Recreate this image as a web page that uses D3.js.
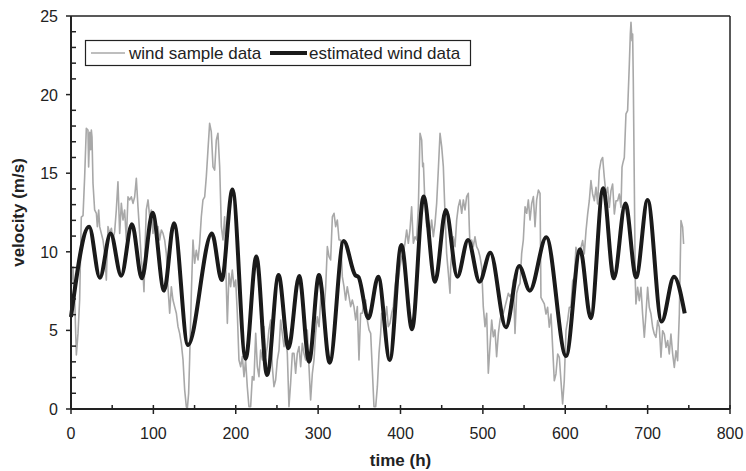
<!DOCTYPE html>
<html><head><meta charset="utf-8">
<script src="https://cdn.jsdelivr.net/npm/d3@7"></script>
<style>body{margin:0;background:#fff}svg{display:block}</style>
</head><body>
<svg id="c" width="746" height="471"></svg>
<script>
// estimated wind data (smooth curve, extrema)
const estT = [0, 22, 35, 48, 61, 74, 86, 99, 113, 125, 142, 171, 183, 196, 212, 225, 238, 252, 264, 277, 289, 301, 314, 331, 345, 349, 361, 373, 387, 401, 414, 428, 442, 455, 469, 482, 496, 509, 528, 544, 557, 577, 601, 618, 631, 646, 659, 673, 686, 700, 717, 732, 745];
const estV = [5.85, 11.6, 8.35, 11.17, 8.48, 11.75, 8.31, 12.49, 7.53, 11.81, 4.07, 11.17, 8.2, 13.97, 3.2, 9.7, 2.16, 8.52, 3.86, 8.46, 3.01, 8.52, 2.95, 10.69, 8.52, 8.4, 5.77, 8.42, 3.12, 10.43, 5.07, 13.51, 8.1, 12.66, 8.42, 10.75, 8.1, 9.94, 5.2, 9.1, 7.53, 10.92, 3.37, 10.16, 5.77, 14.04, 8.31, 13.08, 8.38, 13.3, 5.56, 8.42, 6.09];

// wind sample data
const sampleT = [0, 2.4, 4.5, 6.5, 8.5, 10.5, 12.5, 14.6, 16.6, 18.6, 20.6, 21.4, 22.7, 23.9, 24.7, 25.5, 26.7, 28.7, 30.8, 32, 33.6, 34.8, 36.8, 38.8, 40.9, 42.9, 44.9, 46.9, 49, 51, 53, 55, 57, 59.1, 61.1, 63.1, 65.1, 67.2, 69.2, 71.2, 73.2, 75.3, 77.3, 79.3, 81.3, 83.4, 85.4, 87.4, 88.6, 90.2, 91.4, 93.5, 95.5, 97.5, 99.5, 101.6, 103.6, 105.6, 107.6, 109.7, 111.7, 113.7, 115.7, 117.7, 119.8, 121.8, 123.8, 125.8, 127.9, 129.9, 131.9, 133.9, 136, 138, 140, 141.2, 142.8, 144, 146.1, 148.1, 150.1, 152.1, 154.2, 156.2, 158.2, 160.2, 162.3, 164.3, 166.3, 168.3, 170.3, 172.4, 174.4, 176.4, 178.4, 180.5, 182.5, 184.5, 186.5, 187.7, 189.8, 191.8, 193.8, 195.8, 197.9, 199.9, 201.9, 203.9, 206, 208, 210, 212, 214, 216, 218.1, 220.1, 222.1, 224.2, 226.2, 228.2, 230.2, 232.3, 234.3, 236.3, 238.3, 240.3, 242.4, 244.4, 246.4, 248.4, 250.5, 252.5, 254.5, 256.5, 258.6, 260.6, 262.6, 264.6, 266.6, 268.7, 270.7, 272.7, 274.7, 276.8, 278.8, 280.8, 282.8, 284.9, 286.9, 288.9, 290.9, 293, 295, 297, 299, 301.1, 303.1, 305.1, 307.1, 309.2, 311.2, 313.2, 315.2, 317.3, 319.3, 321.3, 323.3, 325.4, 327.4, 329.4, 331.4, 333.4, 335.4, 337.5, 339.5, 341.5, 343.5, 345.6, 347.6, 349.6, 351.6, 353.7, 355.7, 357.7, 359.7, 361.8, 363.8, 365.8, 367.8, 369.9, 371.9, 373.9, 375.9, 377.1, 379.1, 381.2, 383.2, 385.2, 387.2, 389.3, 391.3, 393.3, 395.3, 397.3, 399.4, 401.4, 403.4, 405.4, 407.5, 409.5, 411.5, 413.5, 415.6, 417.6, 419.6, 421.7, 423.7, 425.7, 426.9, 427.8, 429.8, 431.8, 433.8, 435.8, 437.8, 439.9, 441.9, 443.9, 445.9, 448, 450, 452, 454, 456, 458.1, 460.1, 460.9, 462.1, 464.1, 466.2, 468.2, 470.2, 472.2, 474.3, 476.3, 478.3, 480.3, 482.3, 483.5, 484.4, 486.4, 488.4, 490.4, 492.4, 494.5, 496.5, 498.5, 500.5, 502.6, 504.6, 506.6, 508.6, 510.7, 512.7, 514.7, 516.7, 518.8, 520.8, 522.8, 524.8, 526.9, 528.9, 530.9, 532.9, 535, 537, 539, 541, 543.1, 545.1, 547.1, 549.1, 551.2, 553.2, 555.2, 557.2, 559.3, 561.3, 563.3, 565.3, 567.4, 569.4, 570.5, 572.5, 574.6, 576.6, 578.6, 580.6, 582.7, 584.7, 586.7, 588.7, 590.8, 592.8, 594.8, 596.8, 598.8, 600.9, 602.9, 604.9, 606.9, 609, 611, 613, 615, 617.1, 619.1, 621.1, 623.1, 625.2, 627.2, 629.2, 631.2, 633.2, 635.3, 637.3, 639.3, 641.3, 643.4, 645.4, 647.4, 649.4, 651.5, 653.5, 655.5, 657.5, 659.6, 661.6, 663.6, 665.6, 667.7, 668.9, 669.7, 671.7, 673.7, 675.7, 677.8, 679, 679.8, 681, 681.8, 682.6, 683.8, 685, 685.8, 687.9, 689.9, 691.9, 693.9, 696, 698, 700, 702, 704.1, 706.1, 708.1, 710.1, 712.2, 714.2, 716.2, 718.2, 720.3, 722.3, 724.3, 726.3, 728.3, 730.4, 732.4, 734.4, 736.4, 738.5, 740.5, 742.5, 743.7];
const sampleV = [7.5, 9.05, 6.93, 3.44, 4.81, 6.93, 12.2, 12.3, 14.8, 17.85, 17.75, 15.4, 17.6, 16.5, 17.75, 17.3, 14.36, 12.66, 12.45, 11.6, 12.66, 11.6, 11.17, 10.75, 9.9, 8.2, 11.6, 11.17, 11.5, 10.75, 11.28, 12.66, 14.46, 11.17, 13.08, 12.02, 12.66, 10.75, 13.5, 13.3, 13.5, 13.08, 13.5, 14.67, 12.87, 11.17, 9.48, 8.63, 7.46, 10.75, 12.66, 13.3, 12.23, 12.66, 11.17, 12.23, 11.6, 11.6, 10.75, 11.39, 11.17, 10.75, 9.9, 7.78, 6.09, 7.78, 6.93, 6.51, 6.09, 5.24, 4.81, 4.18, 3.12, 1.21, 0.15, 0, 1.0, 3.12, 7.36, 10.75, 9.27, 10.1, 9.48, 10.54, 12.23, 13.3, 13.5, 14.8, 16.5, 18.17, 17.64, 15.4, 15.2, 17.1, 17.54, 15.4, 11.6, 10.75, 12.23, 9.48, 5.45, 8.63, 7.78, 8.84, 7.78, 8.2, 6.09, 3.12, 2.69, 3.33, 2.06, 3.12, 1.42, 0.15, 0.15, 2.06, 1.84, 4.81, 2.69, 2.06, 3.75, 3.12, 5.24, 3.33, 3.97, 5.03, 5.66, 2.69, 1.42, 1.84, 3.12, 3.75, 5.66, 4.81, 3.97, 4.81, 3.54, 0.15, 1.63, 3.54, 3.54, 2.27, 3.54, 3.97, 2.69, 4.18, 3.54, 3.12, 5.03, 2.69, 0.57, 2.27, 3.12, 4.81, 5.87, 5.24, 6.93, 7.78, 6.09, 7.78, 10.33, 9.69, 9.48, 12.23, 12.45, 11.6, 12.02, 10.75, 10.75, 8.42, 7.78, 6.93, 7.78, 7.15, 6.51, 6.93, 6.51, 5.66, 6.51, 3.12, 6.09, 6.09, 6.93, 6.93, 5.66, 5.03, 4.81, 2.48, 0.15, 0.15, 1.42, 3.54, 4.81, 6.09, 5.66, 5.66, 6.51, 5.24, 5.45, 6.09, 6.51, 7.78, 8.63, 8.21, 9.05, 9.69, 9.9, 10.54, 11.39, 10.54, 11.39, 12.87, 10.54, 10.96, 10.75, 12.87, 17.54, 17.11, 15.42, 15.63, 12.87, 11.6, 12.02, 11.17, 12.02, 10.96, 11.81, 13.08, 15.2, 17.54, 16.69, 15.42, 12.45, 9.9, 8.63, 7.36, 9.05, 9.9, 10.96, 10.33, 12.02, 12.87, 13.3, 12.45, 13.3, 12.66, 13.51, 13.72, 11.6, 10.33, 10.75, 10.33, 10.96, 10.33, 10.11, 9.69, 9.05, 6.51, 5.24, 6.09, 2.27, 3.97, 5.66, 4.6, 5.03, 3.33, 4.81, 5.66, 6.09, 6.09, 6.51, 6.93, 7.36, 7.15, 7.36, 8.21, 4.81, 7.36, 7.78, 7.99, 9.9, 10.75, 12.87, 12.45, 13.3, 12.02, 13.08, 13.51, 11.6, 13.3, 13.93, 13.72, 7.1, 6.89, 6.68, 6.04, 6.47, 5.2, 6.04, 3.92, 1.8, 2.23, 3.5, 3.29, 1.8, 0.32, 1.8, 4.98, 5.62, 6.47, 6.47, 8.16, 8.38, 10.28, 9.86, 9.86, 10.28, 10.71, 9.86, 11.34, 12.4, 13.25, 14.53, 13.68, 13.25, 14.1, 13.04, 15.16, 15.8, 16.0, 14.74, 13.68, 14.1, 12.83, 13.89, 14.31, 12.4, 13.25, 13.25, 13.68, 12.83, 15.37, 15.59, 16.0, 18.77, 18.98, 21.95, 23.85, 24.6, 23.43, 23.85, 20.89, 14.53, 8.16, 6.68, 7.74, 6.89, 7.74, 6.04, 4.56, 6.04, 7.74, 6.47, 6.04, 5.2, 4.77, 4.56, 5.62, 5.2, 3.29, 4.98, 4.77, 3.92, 4.35, 3.5, 4.77, 3.5, 2.65, 3.71, 3.07, 6.04, 11.98, 11.56, 10.5];

const xTicks = [0, 100, 200, 300, 400, 500, 600, 700, 800];
const yTicks = [0, 5, 10, 15, 20, 25];
const seriesNames = ["wind sample data", "estimated wind data"];
const xTitle = "time (h)";
const yTitle = "velocity (m/s)";

const svg = d3.select("#c");
const m = {l: 71, r: 730, t: 16, b: 409};
const x = d3.scaleLinear().domain([0, 800]).range([m.l, m.r]);
const y = d3.scaleLinear().domain([0, 25]).range([m.b, m.t]);
const ink = "#222";
const font = "Liberation Sans, Arial, Helvetica, sans-serif";

// box top/right
svg.append("line").attr("x1", m.l).attr("x2", m.r).attr("y1", m.t).attr("y2", m.t).attr("stroke", ink).attr("stroke-width", 1.5);
svg.append("line").attr("x1", m.r).attr("x2", m.r).attr("y1", m.t).attr("y2", m.b).attr("stroke", ink).attr("stroke-width", 1.5);

// data lines
const sample = sampleT.map((t, i) => [t, sampleV[i]]);
const est = estT.map((t, i) => [t, estV[i]]);
svg.append("path").datum(sample)
  .attr("d", d3.line().x(d => x(d[0])).y(d => y(d[1])))
  .attr("fill", "none").attr("stroke", "#a8a8a8").attr("stroke-width", 1.6).attr("stroke-linejoin", "round");
svg.append("path").datum(est)
  .attr("d", d3.line().x(d => x(d[0])).y(d => y(d[1])).curve(d3.curveMonotoneX))
  .attr("fill", "none").attr("stroke", "#1a1a1a").attr("stroke-width", 4).attr("stroke-linejoin", "round");

// x axis
const gx = svg.append("g").attr("transform", `translate(0,${m.b})`);
gx.append("line").attr("x1", m.l).attr("x2", m.r).attr("stroke", ink).attr("stroke-width", 2);
gx.selectAll(".mn").data(d3.range(50, 800, 100)).join("line")
  .attr("x1", d => x(d)).attr("x2", d => x(d)).attr("y1", 0).attr("y2", -4).attr("stroke", ink).attr("stroke-width", 1.5);
gx.selectAll(".mj").data(xTicks).join("line")
  .attr("x1", d => x(d)).attr("x2", d => x(d)).attr("y1", -4).attr("y2", 5).attr("stroke", ink).attr("stroke-width", 1.5);
gx.selectAll("text").data(xTicks).join("text")
  .attr("x", d => x(d)).attr("y", 30).attr("text-anchor", "middle")
  .attr("font-family", font).attr("font-size", 16).attr("fill", ink).text(d => d);

// y axis
const gy = svg.append("g").attr("transform", `translate(${m.l},0)`);
gy.append("line").attr("y1", m.t).attr("y2", m.b).attr("stroke", ink).attr("stroke-width", 2);
gy.selectAll(".mn").data(d3.range(1, 25).filter(v => v % 5 !== 0)).join("line")
  .attr("y1", d => y(d)).attr("y2", d => y(d)).attr("x1", 0).attr("x2", 5).attr("stroke", ink).attr("stroke-width", 1.5);
gy.selectAll(".mj").data(yTicks).join("line")
  .attr("y1", d => y(d)).attr("y2", d => y(d)).attr("x1", -5).attr("x2", 0).attr("stroke", ink).attr("stroke-width", 1.5);
gy.selectAll("text").data(yTicks).join("text")
  .attr("x", -13).attr("y", d => y(d) + 6).attr("text-anchor", "end")
  .attr("font-family", font).attr("font-size", 16).attr("fill", ink).text(d => d);

// axis titles
svg.append("text").attr("x", (m.l + m.r) / 2).attr("y", 466).attr("text-anchor", "middle")
  .attr("font-family", font).attr("font-weight", "bold").attr("font-size", 17).attr("fill", ink).text(xTitle);
svg.append("text").attr("transform", `translate(24,${(m.t + m.b) / 2}) rotate(-90)`).attr("text-anchor", "middle")
  .attr("font-family", font).attr("font-weight", "bold").attr("font-size", 17).attr("fill", ink).text(yTitle);

// legend
const lg = svg.append("g");
lg.append("rect").attr("x", 85.5).attr("y", 40.5).attr("width", 385).attr("height", 25)
  .attr("fill", "#fff").attr("stroke", ink).attr("stroke-width", 1.2);
const legItems = [
  {name: seriesNames[0], x1: 91, x2: 125, tx: 129, color: "#a8a8a8", w: 1.6},
  {name: seriesNames[1], x1: 270, x2: 307, tx: 309, color: "#1a1a1a", w: 4}
];
legItems.forEach(it => {
  lg.append("line").attr("x1", it.x1).attr("x2", it.x2).attr("y1", 53).attr("y2", 53)
    .attr("stroke", it.color).attr("stroke-width", it.w);
  lg.append("text").attr("x", it.tx).attr("y", 59).attr("font-family", font).attr("font-size", 17)
    .attr("fill", ink).text(it.name);
});
</script>
</body></html>
